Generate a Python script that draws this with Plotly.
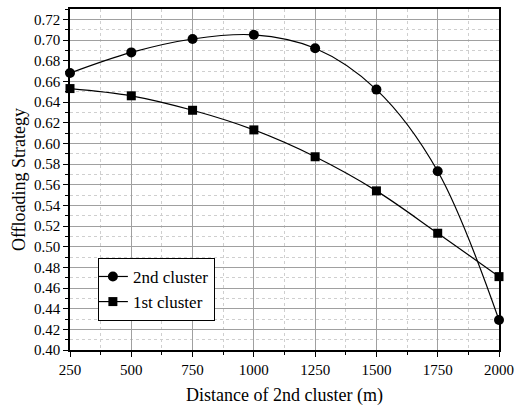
import plotly.graph_objects as go

distance = [250, 500, 750, 1000, 1250, 1500, 1750, 2000]
second_cluster = [0.668, 0.688, 0.701, 0.705, 0.692, 0.652, 0.573, 0.429]
first_cluster = [0.653, 0.646, 0.632, 0.613, 0.587, 0.554, 0.513, 0.471]

FONT = "'Liberation Serif', 'Times New Roman', Times, serif"

fig = go.Figure()
fig.add_trace(go.Scatter(
    x=distance, y=second_cluster, name="2nd cluster", mode="lines+markers",
    line=dict(color="black", width=1.2, shape="spline", smoothing=1.0),
    marker=dict(symbol="circle", size=10, color="black"), cliponaxis=False))
fig.add_trace(go.Scatter(
    x=distance, y=first_cluster, name="1st cluster", mode="lines+markers",
    line=dict(color="black", width=1.2, shape="spline", smoothing=1.0),
    marker=dict(symbol="square", size=9, color="black"), cliponaxis=False))

axis_common = dict(
    showline=True, linecolor="black", linewidth=1.5, mirror=True,
    ticks="outside", ticklen=5, tickwidth=1.2, tickcolor="black",
    showgrid=True, gridcolor="#a0a0a0", gridwidth=1,
    zeroline=False,
    tickfont=dict(family=FONT, size=15, color="black"),
)

fig.update_xaxes(
    range=[250, 2000], tickmode="linear", tick0=250, dtick=250,
    title=dict(text="Distance of 2nd cluster (m)", font=dict(family=FONT, size=18, color="black"), standoff=12),
    minor=dict(dtick=125, tick0=250, showgrid=True, gridcolor="#cfcfcf", griddash="dot", gridwidth=1,
               ticks="outside", ticklen=3, tickcolor="black"),
    **axis_common)
fig.update_yaxes(
    range=[0.40, 0.73], tickmode="linear", tick0=0.40, dtick=0.02, tickformat=".2f",
    title=dict(text="Offloading Strategy", font=dict(family=FONT, size=18, color="black"), standoff=4),
    minor=dict(dtick=0.01, tick0=0.40, showgrid=True, gridcolor="#cfcfcf", griddash="dot", gridwidth=1,
               ticks="outside", ticklen=3, tickcolor="black"),
    **axis_common)

fig.update_layout(
    width=523, height=409,
    margin=dict(l=70, r=24, t=7, b=56),
    plot_bgcolor="white", paper_bgcolor="white",
    font=dict(family=FONT, size=15, color="black"),
    legend=dict(x=0.065, y=0.27, xanchor="left", yanchor="top",
                bgcolor="white", bordercolor="black", borderwidth=1,
                font=dict(family=FONT, size=17, color="black"),
                tracegroupgap=0, itemwidth=30, indentation=-6),
    showlegend=True,
)

fig.write_html("out.html")
